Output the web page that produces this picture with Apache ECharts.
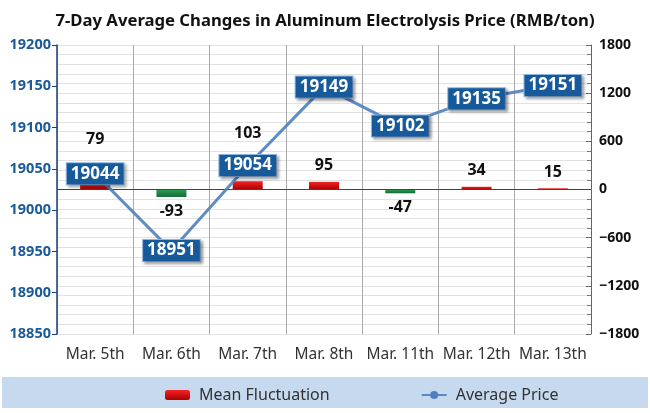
<!DOCTYPE html>
<html>
<head>
<meta charset="utf-8">
<script src="https://cdn.jsdelivr.net/npm/echarts@6/dist/echarts.min.js"></script>
<style>
  html, body { margin: 0; padding: 0; background: #fff; }
  #chart { width: 650px; height: 413px; }
</style>
</head>
<body>
<div id="chart"></div>
<script>
// ---- DATA ----
const days = ['Mar. 5th', 'Mar. 6th', 'Mar. 7th', 'Mar. 8th', 'Mar. 11th', 'Mar. 12th', 'Mar. 13th'];
const fluctuation = [79, -93, 103, 95, -47, 34, 15];
const avgPrice = [19044, 18951, 19054, 19149, 19102, 19135, 19151];
const priceTicks = { min: 18850, max: 19200, step: 50 };
const changeTicks = { min: -1800, max: 1800, step: 600 };

// ---- STYLE ----
const FONT = '"Noto Sans", "Open Sans", sans-serif';
const redFill = new echarts.graphic.LinearGradient(0, 0, 0, 1, [
  { offset: 0, color: '#f42424' },
  { offset: 1, color: '#a80000' }
]);
const greenFill = new echarts.graphic.LinearGradient(0, 0, 0, 1, [
  { offset: 0, color: '#2e9e52' },
  { offset: 1, color: '#146a34' }
]);
// bar labels that sit under a price box are pushed up further
const liftedLabels = { 0: 36, 2: 40 };

const barData = fluctuation.map((v, i) => ({
  value: v,
  itemStyle: v < 0 ? { color: greenFill } : undefined,
  label: {
    position: v < 0 ? 'bottom' : 'top',
    distance: liftedLabels[i] !== undefined ? liftedLabels[i] : (v < 0 ? 6 : 8)
  }
}));

const chart = echarts.init(document.getElementById('chart'), null, { renderer: 'canvas' });
chart.setOption({
  backgroundColor: '#fff',
  animation: false,
  title: {
    text: '7-Day Average Changes in Aluminum Electrolysis Price (RMB/ton)',
    left: 'center',
    top: 8,
    textStyle: { fontFamily: FONT, fontSize: 16.7, fontWeight: 'bold', color: '#111' }
  },
  graphic: [{
    type: 'rect',
    z: -1,
    shape: { x: 2, y: 377, width: 646, height: 31 },
    style: { fill: '#c6d9ef' }
  }],
  legend: {
    left: 160,
    top: 382,
    itemWidth: 25,
    itemHeight: 10,
    itemGap: 91,
    textStyle: { fontFamily: FONT, fontSize: 16, color: '#333', padding: [0, 0, 0, 4] },
    data: ['Mean Fluctuation', 'Average Price']
  },
  grid: { left: 57, right: 59, top: 45, bottom: 79, containLabel: false },
  xAxis: {
    type: 'category',
    data: days,
    boundaryGap: true,
    axisLine: { lineStyle: { color: '#888' } },
    axisTick: { alignWithLabel: true, interval: 0, length: 5, lineStyle: { color: '#777' } },
    axisLabel: { interval: 0, fontFamily: FONT, fontSize: 15.5, color: '#333', margin: 13 },
    splitLine: { show: true, interval: 0, lineStyle: { color: '#aaa' } }
  },
  yAxis: [{
    type: 'value',
    min: priceTicks.min,
    max: priceTicks.max,
    interval: priceTicks.step,
    axisLine: { show: true, lineStyle: { color: '#1f3f7f', width: 1.5 } },
    axisTick: { show: true, length: 5, lineStyle: { color: '#1f3f7f' } },
    axisLabel: {
      fontFamily: FONT, fontSize: 14.5, fontWeight: 'bold', color: '#1a5a9a', margin: 6,
      formatter: v => String(v)
    },
    splitLine: { show: false }
  }, {
    type: 'value',
    min: changeTicks.min,
    max: changeTicks.max,
    interval: changeTicks.step,
    axisLine: { show: true, lineStyle: { color: '#666' } },
    axisTick: { show: true, inside: true, length: 5, lineStyle: { color: '#666' } },
    minorTick: { show: true, splitNumber: 5, length: 4, lineStyle: { color: '#777' } },
    axisLabel: {
      fontFamily: FONT, fontSize: 14, fontWeight: 'bold', color: '#111', margin: 8,
      formatter: v => String(v).replace('-', '\u2212')
    },
    splitLine: { show: true, lineStyle: { color: '#e2e2e2' } },
    minorSplitLine: { show: true, lineStyle: { color: '#e2e2e2' } }
  }],
  series: [{
    name: 'Mean Fluctuation',
    type: 'bar',
    yAxisIndex: 1,
    barWidth: 30,
    itemStyle: { color: redFill },
    data: barData,
    label: {
      show: true,
      fontFamily: FONT,
      fontSize: 16,
      fontWeight: 'bold',
      color: '#111'
    },
    markLine: {
      silent: true,
      symbol: 'none',
      label: { show: false },
      lineStyle: { color: '#444', width: 1, type: 'solid' },
      data: [{ yAxis: 0 }]
    },
    z: 2
  }, {
    name: 'Average Price',
    type: 'line',
    yAxisIndex: 0,
    data: avgPrice,
    symbol: 'circle',
    symbolSize: 6,
    itemStyle: { color: '#4f7fbe' },
    lineStyle: { color: '#4f7fbe', width: 3, opacity: 0.9 },
    label: {
      show: true,
      position: 'inside',
      fontFamily: FONT,
      fontSize: 17,
      fontWeight: 'bold',
      color: '#fff',
      backgroundColor: '#165a9c',
      borderColor: '#8fb4e0',
      borderWidth: 1,
      padding: [3, 4, 1, 4],
      shadowColor: 'rgba(0,0,0,0.35)',
      shadowBlur: 3,
      shadowOffsetX: 2,
      shadowOffsetY: 2
    },
    z: 5
  }]
});
</script>
</body>
</html>
